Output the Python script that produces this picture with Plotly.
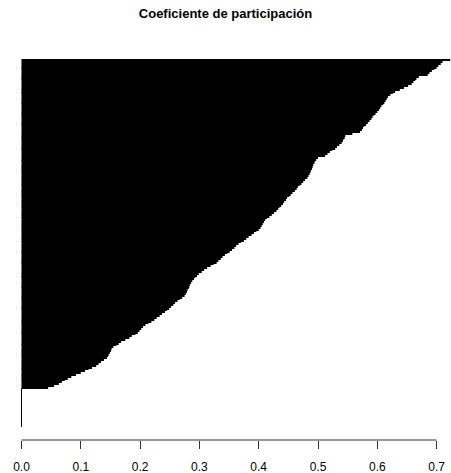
import plotly.graph_objects as go

# Participation coefficients, sorted ascending (bottom bar first)
n_zero = 21
zero_values = [0.0] * n_zero
nonzero_values = [
    0.045, 0.055, 0.063, 0.068, 0.073, 0.078, 0.084, 0.092, 0.100, 0.107,
    0.113, 0.119, 0.126, 0.130, 0.134, 0.139, 0.144, 0.146, 0.147, 0.149,
    0.151, 0.152, 0.155, 0.160, 0.164, 0.168, 0.175, 0.182, 0.186, 0.192,
    0.196, 0.199, 0.202, 0.205, 0.209, 0.214, 0.219, 0.224, 0.228, 0.233,
    0.237, 0.242, 0.245, 0.249, 0.252, 0.256, 0.259, 0.263, 0.267, 0.271,
    0.275, 0.277, 0.279, 0.280, 0.282, 0.283, 0.284, 0.286, 0.288, 0.291,
    0.293, 0.296, 0.299, 0.304, 0.308, 0.313, 0.319, 0.324, 0.329, 0.332,
    0.336, 0.339, 0.343, 0.347, 0.351, 0.355, 0.359, 0.362, 0.366, 0.370,
    0.375, 0.379, 0.383, 0.388, 0.392, 0.396, 0.400, 0.403, 0.405, 0.407,
    0.409, 0.411, 0.414, 0.418, 0.422, 0.426, 0.430, 0.433, 0.435, 0.438,
    0.441, 0.443, 0.446, 0.448, 0.451, 0.454, 0.457, 0.461, 0.464, 0.466,
    0.469, 0.472, 0.475, 0.478, 0.482, 0.484, 0.486, 0.487, 0.488, 0.490,
    0.491, 0.492, 0.494, 0.495, 0.497, 0.500, 0.512, 0.516, 0.520, 0.524,
    0.529, 0.532, 0.536, 0.540, 0.542, 0.543, 0.545, 0.546, 0.558, 0.571,
    0.574, 0.576, 0.578, 0.581, 0.584, 0.587, 0.590, 0.592, 0.594, 0.597,
    0.600, 0.603, 0.605, 0.607, 0.610, 0.612, 0.614, 0.616, 0.618, 0.622,
    0.626, 0.630, 0.638, 0.645, 0.652, 0.658, 0.661, 0.664, 0.666, 0.670,
    0.685, 0.688, 0.692, 0.696, 0.700, 0.703, 0.707, 0.710, 0.723,
]
values = zero_values + nonzero_values
positions = list(range(len(values)))

tick_values = [0.0, 0.1, 0.2, 0.3, 0.4, 0.5, 0.6, 0.7]
tick_labels = ["0.0", "0.1", "0.2", "0.3", "0.4", "0.5", "0.6", "0.7"]
title_text = "Coeficiente de participación"

W, H = 451, 473
top_px, bars_bottom_px, axis_px = 59, 427, 440
n = len(values)
pitch = (bars_bottom_px - top_px) / n
y_top = n - 0.5
y_bottom = -0.5 - (axis_px - bars_bottom_px) / pitch

x_per_px = 1 / 593.0
x_lo = -21.5 * x_per_px
x_hi = x_lo + W * x_per_px

fig = go.Figure()
fig.add_trace(go.Bar(
    x=values, y=positions, orientation="h",
    marker=dict(color="black", line=dict(width=0)),
    hoverinfo="x",
))

# zero-length bars drawn as a line at x=0 (as R does with bar borders)
fig.add_shape(type="line", xref="x", yref="y",
              x0=0, x1=0, y0=-0.5, y1=n_zero - 0.5,
              line=dict(color="black", width=1))
# axis line spanning first to last tick
fig.add_shape(type="line", xref="x", yref="paper",
              x0=tick_values[0], x1=tick_values[-1], y0=0, y1=0,
              line=dict(color="#333333", width=1))

fig.update_layout(
    width=W, height=H,
    margin=dict(l=0, r=0, t=top_px, b=H - axis_px),
    paper_bgcolor="white", plot_bgcolor="white",
    bargap=0.12,
    showlegend=False,
    title=dict(text="<b>" + title_text + "</b>", x=0.5, xanchor="center",
               xref="paper", yref="container", y=1 - 13 / H, yanchor="middle",
               font=dict(family="Liberation Sans, Arial", size=13, color="black")),
    font=dict(family="Liberation Sans, Arial", color="black"),
    xaxis=dict(range=[x_lo, x_hi], tickvals=tick_values, ticktext=tick_labels,
               ticks="outside", ticklen=8, tickcolor="#333333", tickwidth=1,
               showline=False, showgrid=False, zeroline=False,
               tickfont=dict(size=12, color="black"), ticklabelstandoff=8),
    yaxis=dict(range=[y_bottom, y_top], showticklabels=False, showgrid=False,
               zeroline=False, showline=False, ticks=""),
)

fig.write_html("out.html")
